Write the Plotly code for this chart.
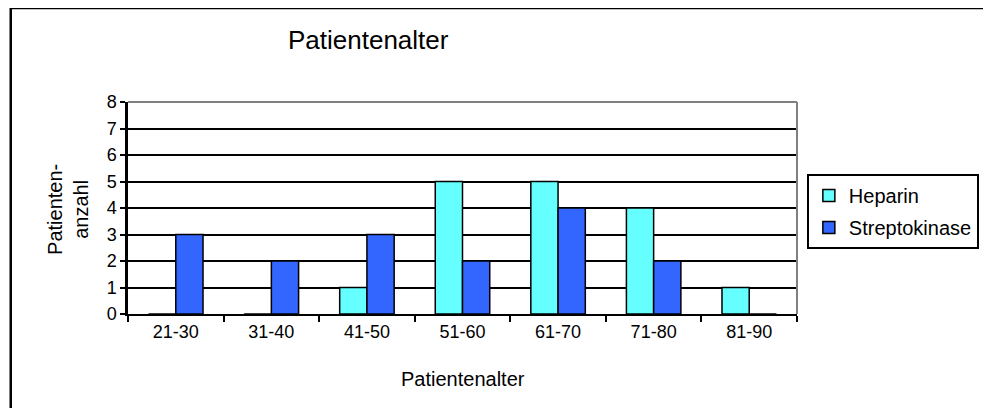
import plotly.graph_objects as go

categories = ["21-30", "31-40", "41-50", "51-60", "61-70", "71-80", "81-90"]
heparin = [0, 0, 1, 5, 5, 4, 1]
streptokinase = [3, 2, 3, 2, 4, 2, 0]
y_ticks = [0, 1, 2, 3, 4, 5, 6, 7, 8]

# The page body has an 8px margin, so the figure is drawn 8px smaller and
# all reference pixel positions are shifted by -8.
OFF = 8
W, H = 991 - OFF, 408 - OFF
L, R, T, B = 128 - OFF, 807 - OFF, 102 - OFF, 314 - OFF  # plot area in figure px

def xp(px):
    return (px - OFF - L) / (R - L)

def yp(py):
    return (B - (py - OFF)) / (B - T)

FONT = "Liberation Sans, Arial, sans-serif"

fig = go.Figure()
fig.add_trace(go.Bar(name="Heparin", x=categories, y=heparin, legendgroup="h",
                     marker=dict(color="#66FFFF", line=dict(color="black", width=1.5))))
fig.add_trace(go.Bar(name="Streptokinase", x=categories, y=streptokinase, legendgroup="s",
                     marker=dict(color="#3366FF", line=dict(color="black", width=1.5))))

fig.update_layout(
    width=W, height=H,
    margin=dict(l=L, r=W - R, t=T, b=H - B, pad=0),
    paper_bgcolor="white", plot_bgcolor="white",
    barmode="group", bargap=0.43, bargroupgap=0,
    font=dict(family=FONT, color="black", size=18),
    showlegend=True,
    legend=dict(x=xp(817), y=yp(174), xanchor="left", yanchor="top",
                bordercolor="black", borderwidth=2, bgcolor="white",
                font=dict(size=20, family=FONT, color="black"),
                itemwidth=30, tracegroupgap=3),
    title=dict(text="Patientenalter", xref="container", yref="container",
               x=(288 - OFF) / W, xanchor="left", y=1 - (40 - OFF) / H, yanchor="middle",
               font=dict(size=26, family=FONT, color="black")),
)

fig.update_xaxes(type="category", showline=True, linecolor="black", linewidth=2,
                 ticks="outside", tickson="boundaries", ticklen=6, tickwidth=2,
                 tickcolor="black", showgrid=False, zeroline=False,
                 tickfont=dict(size=18, family=FONT, color="black"))
fig.update_yaxes(range=[0, 8], tickvals=y_ticks, showline=True, linecolor="black",
                 linewidth=2.5, ticks="outside", ticklen=5, tickwidth=2,
                 tickcolor="black", showgrid=True, gridcolor="black", gridwidth=2,
                 zeroline=False, tickfont=dict(size=18, family=FONT, color="black"))

# axis titles
fig.add_annotation(text="Patientenalter", xref="paper", yref="paper",
                   x=xp(467.5), y=yp(379), xanchor="center", yanchor="middle",
                   showarrow=False, font=dict(size=20, family=FONT, color="black"))
fig.add_annotation(text="Patienten-<br>anzahl", xref="paper", yref="paper",
                   x=xp(67), y=yp(209), xanchor="center", yanchor="middle",
                   textangle=-90, showarrow=False,
                   font=dict(size=20, family=FONT, color="black"))

# gray plot border top/right
fig.add_shape(type="line", xref="paper", yref="paper", x0=0, x1=1, y0=1, y1=1,
              line=dict(color="#808080", width=2), layer="above")
fig.add_shape(type="line", xref="paper", yref="paper", x0=1, x1=1, y0=0, y1=1,
              line=dict(color="#808080", width=2), layer="above")
# outer chart border (top and left visible)
fig.add_shape(type="line", xref="paper", yref="paper", x0=xp(9), x1=xp(1100),
              y0=yp(8), y1=yp(8), line=dict(color="black", width=2.5), layer="above")
fig.add_shape(type="line", xref="paper", yref="paper", x0=xp(9), x1=xp(9),
              y0=yp(8), y1=yp(500), line=dict(color="black", width=2.5), layer="above")

fig.write_html("out.html")
